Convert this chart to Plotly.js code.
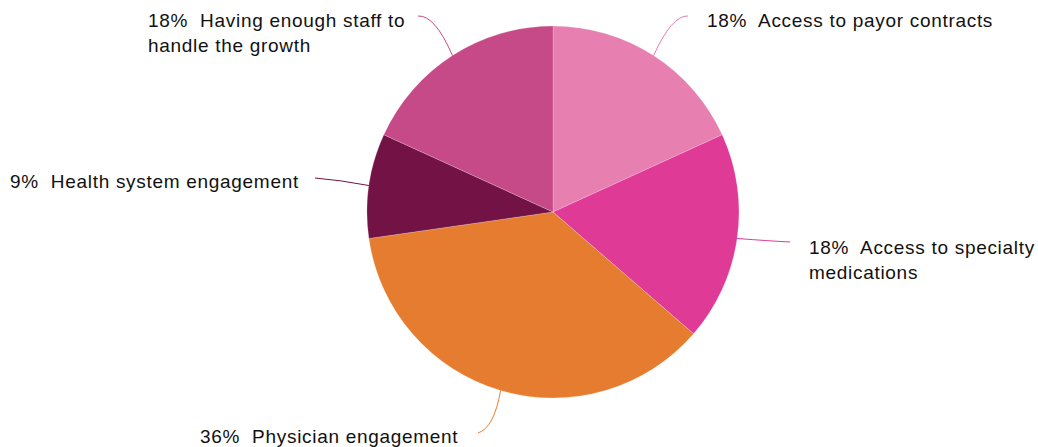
<!DOCTYPE html>
<html>
<head>
<meta charset="utf-8">
<script src="https://cdn.plot.ly/plotly-3.0.1.min.js"></script>
<style>
html,body{margin:0;padding:0;background:#fff;}
#chart{width:1038px;height:447px;}
#chart text.annotation-text{letter-spacing:0.7px;}
</style>
</head>
<body>
<div id="chart"></div>
<script>
// ---- data ----
const categories = [
  "Access to payor contracts",
  "Access to specialty<br>medications",
  "Physician engagement",
  "Health system engagement",
  "Having enough staff to<br>handle the growth"
];
const values = [2, 2, 4, 1, 2];
const colors = ["#E77FB0", "#DE3A96", "#E67C2F", "#731244", "#C54A87"];

// ---- layout helpers (pixels) ----
const W = 1038, H = 447;
const cx = 553, cy = 212, R = 186;
// label placement: left edge px, middle y px, line end px, control px
const labelLayout = [
  {tx: 705, ty: 20,  end: [688, 16],  ctrl: [672, 15]},
  {tx: 807, ty: 260, end: [790, 242], ctrl: [770, 241]},
  {tx: 198, ty: 436, end: [478, 433], ctrl: [494, 428]},
  {tx: 8,   ty: 181, end: [315, 178], ctrl: [340, 180]},
  {tx: 146, ty: 33,  end: [418, 16],  ctrl: [435, 15]}
];

const px = x => x / W;
const py = y => 1 - y / H;

const total = values.reduce((a, b) => a + b, 0);
let acc = 0;
const annotations = [];
const shapes = [];
values.forEach((v, i) => {
  const mid = (acc + v / 2) / total * 2 * Math.PI;
  acc += v;
  const ex = cx + R * Math.sin(mid);
  const ey = cy - R * Math.cos(mid);
  const L = labelLayout[i];
  const pct = Math.round(v / total * 100);
  annotations.push({
    xref: "paper", yref: "paper",
    x: px(L.tx), y: py(L.ty),
    xanchor: "left", yanchor: "middle", align: "left",
    showarrow: false,
    text: pct + "%&nbsp; " + categories[i],
    font: {family: "Liberation Sans, Arial, sans-serif", size: 19, color: "#111"}
  });
  shapes.push({
    type: "path", xref: "paper", yref: "paper",
    path: "M " + px(ex) + "," + py(ey) + " Q " + px(L.ctrl[0]) + "," + py(L.ctrl[1]) + " " + px(L.end[0]) + "," + py(L.end[1]),
    line: {color: colors[i], width: 1}
  });
});

const trace = {
  type: "pie",
  labels: categories,
  values: values,
  sort: false,
  direction: "clockwise",
  rotation: 0,
  marker: {colors: colors, line: {color: "rgba(255,255,255,0.4)", width: 0.5}},
  textinfo: "none",
  hoverinfo: "label+percent",
  showlegend: false,
  domain: {x: [px(cx - R), px(cx + R)], y: [py(cy + R), py(cy - R)]}
};

const layout = {
  width: W, height: H,
  margin: {l: 0, r: 0, t: 0, b: 0},
  paper_bgcolor: "#fff",
  showlegend: false,
  annotations: annotations,
  shapes: shapes
};

Plotly.newPlot("chart", [trace], layout, {staticPlot: true});
</script>
</body>
</html>
